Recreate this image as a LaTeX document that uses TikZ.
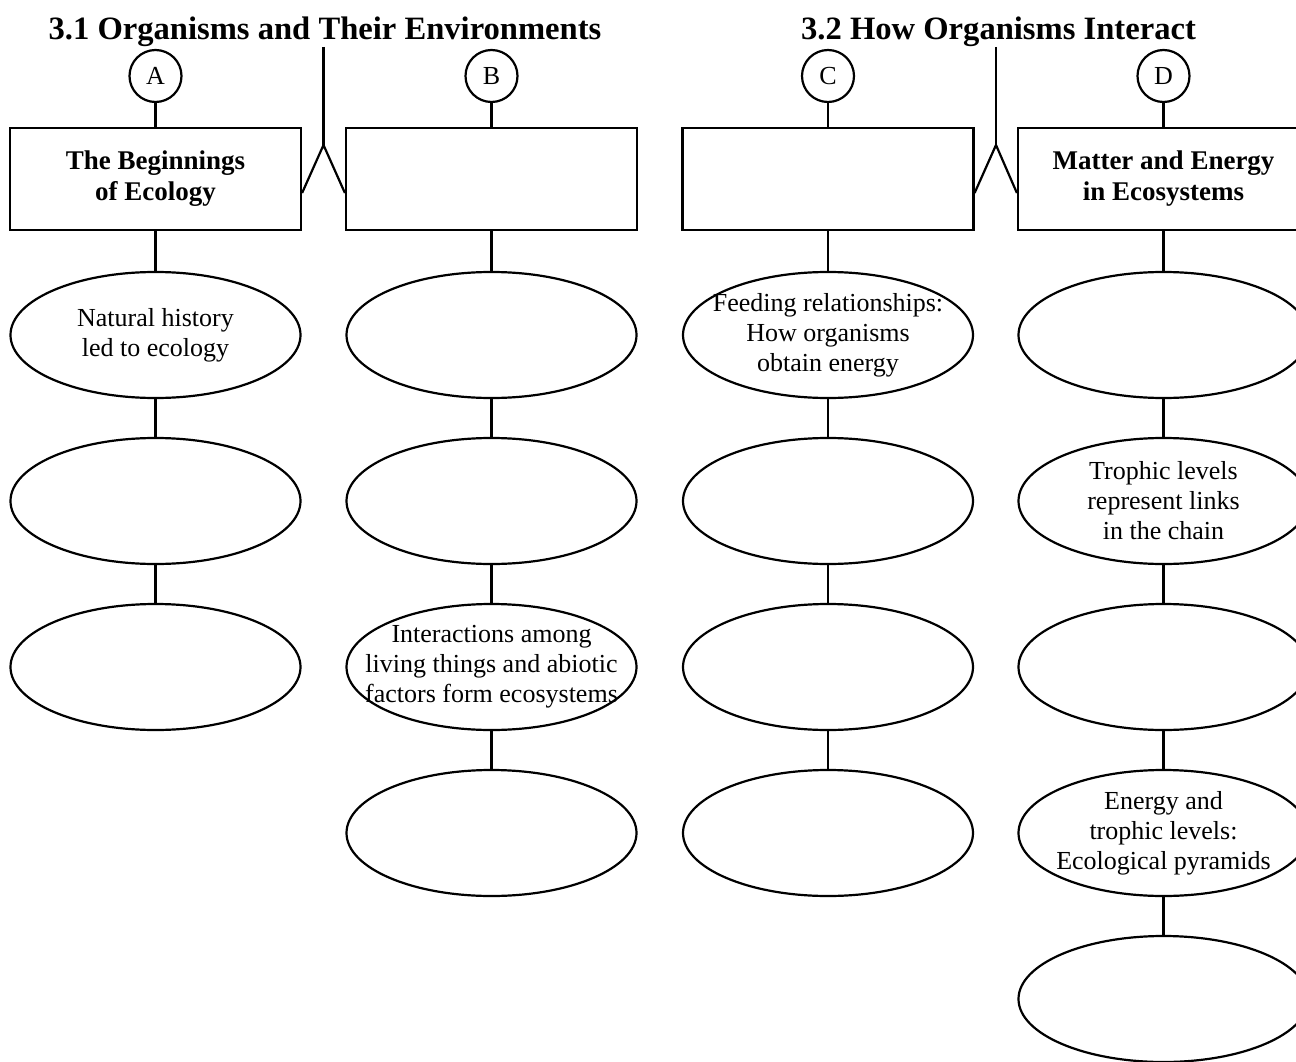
\documentclass[tikz,border=0pt]{standalone}
\usepackage{fontspec}
\setmainfont{Liberation Serif}
\usetikzlibrary{shapes.geometric}
\begin{document}
\begin{tikzpicture}[x=1pt,y=-1pt,line width=2.2pt,
  hdr/.style={rectangle,draw,minimum width=291pt,minimum height=102pt,inner sep=0pt,
    font=\fontsize{27}{31}\selectfont\bfseries,align=center},
  oval/.style={ellipse,draw,minimum width=290pt,minimum height=126pt,inner sep=0pt},
  otext/.style={font=\fontsize{26}{30}\selectfont,align=center,inner sep=0pt},
  letter/.style={circle,draw,minimum size=52pt,inner sep=0pt,font=\fontsize{26}{26}\selectfont},
  ttl/.style={font=\fontsize{32.6}{36}\selectfont\bfseries,anchor=base,inner sep=0pt}]
\useasboundingbox (0,0) rectangle (1296,1062);
\clip (0,0) rectangle (1296,1062);
\fill[white] (0,0) rectangle (1296,1062);

% titles
\node[ttl] (t1) at (325,40) {3.1 Organisms and Their Environments};
\node[ttl] (t2) at (998.5,40) {3.2 How Organisms Interact};

% letters
\node[letter] (cA) at (155.5,76) {A};
\node[letter] (cB) at (491.5,76) {B};
\node[letter] (cC) at (828,76) {C};
\node[letter] (cD) at (1163.5,76) {D};

% header boxes
\node[hdr] (hA) at (155.5,179) {The Beginnings\\of Ecology};
\node[hdr] (hB) at (491.5,179) {};
\node[hdr] (hC) at (828,179) {};
\node[hdr] (hD) at (1163.5,179) {Matter and Energy\\in Ecosystems};

\draw (cA) -- (hA);
\draw (cB) -- (hB);
\draw (cC) -- (hC);
\draw (cD) -- (hD);

% brackets
\coordinate (y193) at (0,193);
\coordinate (top1) at (323.5,47);
\coordinate (apex1) at (323.5,145);
\coordinate (top2) at (996,47);
\coordinate (apex2) at (996,145);
\draw (top1) -- (apex1);
\draw (hA.east |- y193) -- (apex1) -- (hB.west |- y193);
\draw (top2) -- (apex2);
\draw (hC.east |- y193) -- (apex2) -- (hD.west |- y193);

% column A
\node[oval] (A1) at (155.5,335) {};
\node[oval] (A2) at (155.5,501) {};
\node[oval] (A3) at (155.5,667) {};
\node[otext] (A1t) at (A1) {Natural history\\led to ecology};
\draw (hA) -- (A1);
\draw (A1) -- (A2);
\draw (A2) -- (A3);

% column B
\node[oval] (B1) at (491.5,335) {};
\node[oval] (B2) at (491.5,501) {};
\node[oval] (B3) at (491.5,667) {};
\node[oval] (B4) at (491.5,833) {};
\node[otext] (B3t) at (B3) {Interactions among\\living things and abiotic\\factors form ecosystems};
\draw (hB) -- (B1);
\draw (B1) -- (B2);
\draw (B2) -- (B3);
\draw (B3) -- (B4);

% column C
\node[oval] (C1) at (828,335) {};
\node[oval] (C2) at (828,501) {};
\node[oval] (C3) at (828,667) {};
\node[oval] (C4) at (828,833) {};
\node[otext] (C1t) at (C1) {Feeding relationships:\\How organisms\\obtain energy};
\draw (hC) -- (C1);
\draw (C1) -- (C2);
\draw (C2) -- (C3);
\draw (C3) -- (C4);

% column D
\node[oval] (D1) at (1163.5,335) {};
\node[oval] (D2) at (1163.5,501) {};
\node[oval] (D3) at (1163.5,667) {};
\node[oval] (D4) at (1163.5,833) {};
\node[oval] (D5) at (1163.5,999) {};
\node[otext] (D2t) at (D2) {Trophic levels\\represent links\\in the chain};
\node[otext] (D4t) at (D4) {Energy and\\trophic levels:\\Ecological pyramids};
\draw (hD) -- (D1);
\draw (D1) -- (D2);
\draw (D2) -- (D3);
\draw (D3) -- (D4);
\draw (D4) -- (D5);
\end{tikzpicture}
\end{document}
